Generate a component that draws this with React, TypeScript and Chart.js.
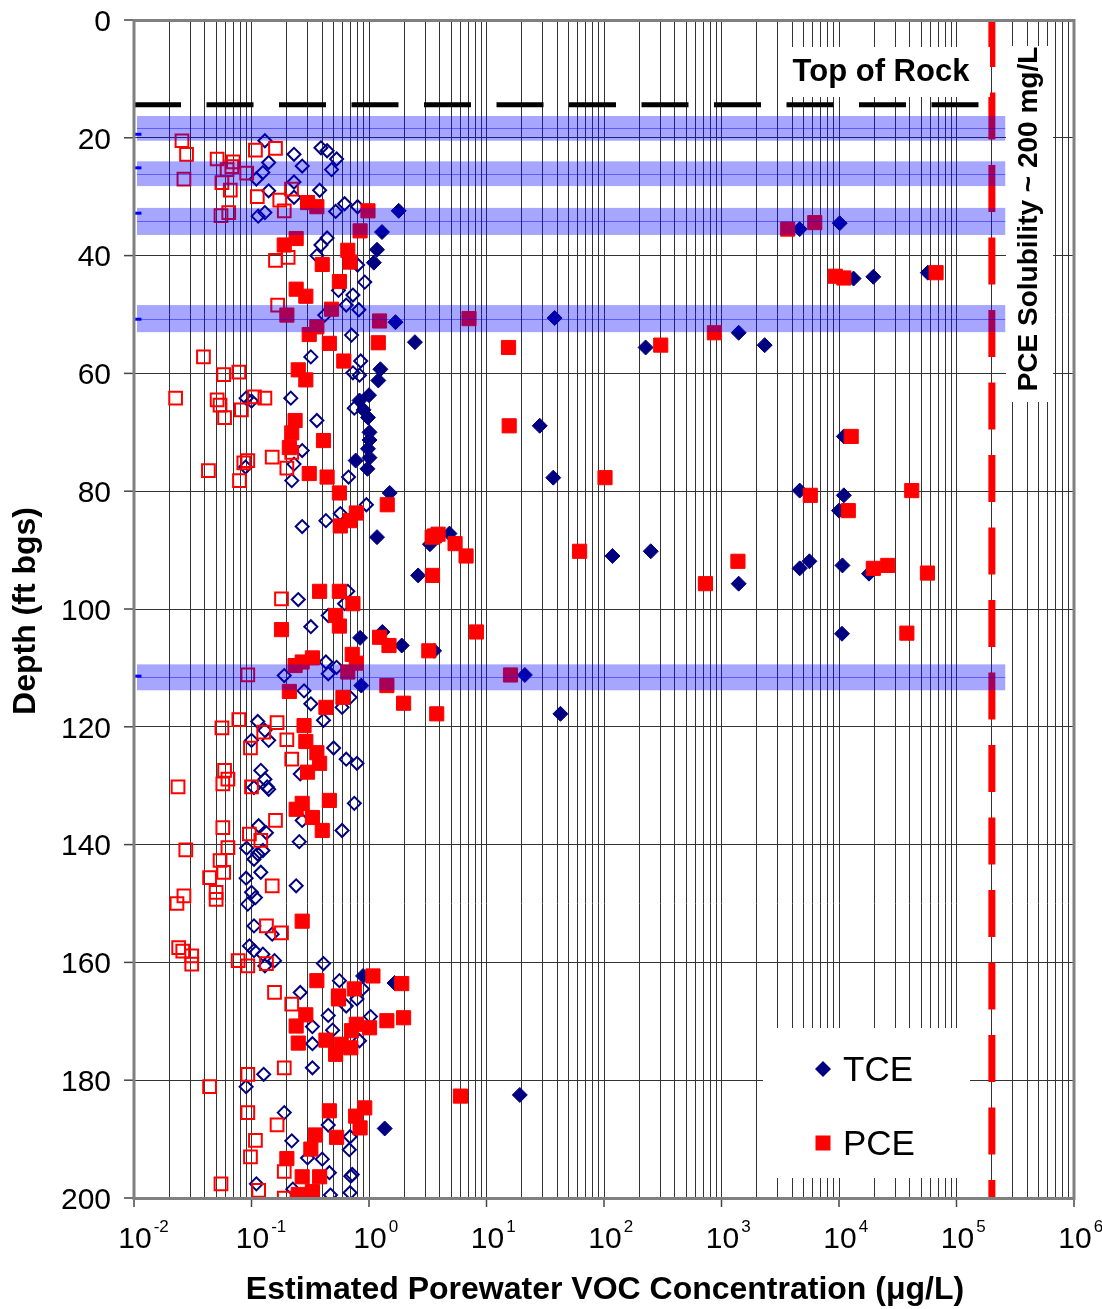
import React, { useEffect, useRef } from 'react';
import { Chart, registerables } from 'chart.js';

Chart.register(...registerables);

// ---------- data (x = concentration ug/L, y = depth ft bgs) ----------
const tceFilled: [number, number][] = [
  [1.79, 32.4], [1.29, 36.0], [1.17, 39.0], [1.1, 41.2], [1.68, 51.3], [2.46, 54.7],
  [4630, 35.5], [10140, 34.5], [13300, 43.9], [19600, 43.6], [57000, 42.9], [38, 50.6], [1400, 53.1], [2330, 55.2], [226, 55.6],
  [1.25, 59.3], [1.2, 61.2], [1.0, 63.7], [0.83, 64.6], [0.9, 66.2], [0.98, 67.5], [1.01, 70.0], [1.01, 71.3], [0.98, 72.8], [1.01, 74.3], [0.77, 74.8], [0.97, 76.2], [1.5, 80.3], [1.17, 87.8],
  [28.4, 68.9], [37, 77.7], [11000, 70.7], [4630, 79.9], [11000, 80.7], [10000, 83.3],
  [4.84, 87.2], [3.3, 89.0], [2.62, 94.3], [118, 91.0], [250, 90.2], [1400, 95.7], [4630, 93.1], [5600, 91.9], [10700, 92.6], [18000, 94.0],
  [1.9, 106.2], [3.58, 107.1], [10600, 104.2], [21.2, 111.2], [42.6, 117.8], [0.84, 104.9], [1.3, 103.9], [0.86, 113.0],
  [0.89, 162.3], [1.65, 163.5], [1.36, 188.2], [19.2, 182.5],
];

const pceFilled: [number, number][] = [
  [0.30, 31.0], [0.36, 31.7], [0.98, 32.4], [0.84, 35.8], [0.24, 37.1], [0.19, 38.2], [0.66, 39.1], [0.69, 41.1], [0.40, 41.5], [0.56, 44.4], [0.24, 45.7], [0.29, 46.9], [0.48, 49.1], [0.20, 50.1], [0.36, 52.1], [0.31, 53.4], [1.23, 51.1], [1.2, 54.8], [0.46, 54.9], [7.1, 50.7],
  [3660, 35.5], [6220, 34.4], [9300, 43.5], [11000, 43.8], [67000, 42.9], [870, 53.1], [304, 55.2], [15.4, 55.6],
  [0.25, 59.4], [0.29, 61.1], [0.61, 57.9], [0.235, 68.0], [0.22, 70.1], [0.21, 72.6], [0.41, 71.4], [0.31, 77.0], [0.44, 77.6], [0.56, 80.3], [1.43, 82.3], [0.78, 83.7], [0.69, 85.0], [0.57, 85.9],
  [15.6, 68.9], [102, 77.7], [12700, 70.7], [5700, 80.7], [12000, 83.3], [41600, 79.9],
  [3.45, 87.8], [3.6, 87.6], [3.87, 87.3], [5.4, 88.9], [6.7, 91.0], [3.47, 94.3], [62, 90.2], [1380, 91.9], [730, 95.7], [19600, 93.1], [26000, 92.6], [56600, 93.9],
  [0.38, 97.0], [0.56, 97.0], [0.73, 99.1], [0.52, 101.1], [0.56, 102.9], [0.18, 103.5], [1.23, 104.8], [1.48, 106.2], [3.23, 107.1], [8.2, 103.9], [37800, 104.1],
  [0.33, 108.3], [0.235, 109.6], [0.27, 109.0], [0.72, 107.7], [0.78, 109.2], [0.66, 110.7], [1.42, 113.0], [16, 111.2], [0.21, 114.0], [0.43, 116.7], [0.60, 115.0], [1.97, 116.0], [3.77, 117.8],
  [0.28, 119.8], [0.29, 122.5], [0.36, 124.4], [0.38, 126.2], [0.30, 127.7],
  [0.24, 134.0], [0.27, 133.0], [0.46, 132.5], [0.33, 135.4], [0.40, 137.6], [0.27, 153.0],
  [1.08, 162.3], [1.9, 163.6], [0.36, 163.1], [0.55, 165.7], [0.75, 164.5],
  [0.55, 166.2], [0.29, 168.9], [0.24, 170.8], [0.25, 173.7], [0.43, 173.2], [0.58, 173.9], [0.52, 175.6], [0.70, 174.5], [0.71, 171.6], [0.78, 170.5], [1.01, 171.1], [1.42, 169.9], [1.97, 169.4],
  [6.0, 182.7], [0.46, 185.2], [0.77, 186.1], [0.92, 184.7], [0.84, 188.1], [0.35, 189.3], [0.53, 189.7], [0.32, 191.7], [0.20, 193.3], [0.27, 196.4], [0.38, 196.4], [0.25, 199.4], [0.33, 198.9],
];

const pceOpen: [number, number][] = [
  [0.0256, 20.5], [0.028, 22.8], [0.0266, 27.0], [0.051, 23.6], [0.070, 24.1], [0.068, 24.9], [0.062, 25.4], [0.091, 26.0], [0.056, 27.6], [0.066, 28.9], [0.108, 22.1], [0.16, 21.8], [0.112, 30.0], [0.174, 30.6], [0.219, 28.7], [0.19, 32.4], [0.055, 33.2], [0.064, 32.7], [0.16, 40.8], [0.205, 40.3], [0.167, 48.4],
  [0.039, 57.2], [0.058, 60.2], [0.078, 59.8], [0.0226, 64.2], [0.051, 64.5], [0.054, 65.4], [0.059, 67.5], [0.106, 64.0], [0.13, 64.2], [0.082, 66.2], [0.043, 76.5], [0.086, 75.2], [0.093, 74.8], [0.079, 78.2], [0.15, 74.2], [0.20, 76.1], [0.22, 73.4],
  [0.18, 98.3], [0.093, 111.2], [0.056, 120.2], [0.078, 118.8], [0.165, 119.3], [0.127, 120.9], [0.20, 122.2], [0.098, 123.6], [0.22, 125.5], [0.059, 127.4], [0.063, 128.9], [0.057, 129.7], [0.0237, 130.2], [0.10, 130.2],
  [0.057, 137.1], [0.16, 135.9], [0.096, 138.2], [0.12, 139.3], [0.0276, 140.9], [0.063, 140.5], [0.054, 142.7], [0.058, 144.7], [0.044, 145.6], [0.15, 147.0], [0.050, 148.1], [0.050, 149.3], [0.0266, 148.7], [0.0232, 150.0], [0.134, 153.8], [0.18, 155.0], [0.024, 157.5], [0.026, 158.1], [0.031, 158.9], [0.031, 160.3], [0.077, 159.7], [0.093, 160.6], [0.134, 160.2], [0.157, 165.1],
  [0.22, 167.1], [0.19, 177.9], [0.093, 179.0], [0.044, 181.1], [0.093, 185.5], [0.165, 187.6], [0.108, 190.2], [0.098, 193.0], [0.19, 195.5], [0.055, 197.6], [0.115, 198.7], [0.19, 200],
];

const tceOpen: [number, number][] = [
  [0.13, 20.5], [0.23, 22.8], [0.27, 24.8], [0.14, 24.2], [0.125, 25.9], [0.11, 27.0], [0.39, 21.7], [0.44, 22.2], [0.53, 23.6], [0.48, 25.4], [0.23, 27.5], [0.14, 29.0], [0.23, 30.1], [0.38, 28.9], [0.114, 33.3], [0.13, 32.7], [0.52, 32.5], [0.62, 31.2], [0.80, 31.7], [0.44, 37.0], [0.39, 38.2], [0.36, 40.0], [0.80, 41.6], [0.92, 44.5], [0.55, 45.9], [0.73, 46.7], [0.64, 48.4], [0.82, 49.2], [0.42, 50.1], [0.71, 53.5],
  [0.32, 57.2], [0.85, 57.9], [0.73, 59.9], [0.83, 60.3], [0.216, 64.2], [0.09, 64.2], [0.1, 64.7], [0.36, 68.0], [0.75, 65.9], [0.27, 73.1], [0.23, 75.4], [0.22, 78.2], [0.089, 75.9], [0.67, 77.6], [0.95, 82.3], [0.27, 86.0], [0.43, 85.0], [0.57, 83.8],
  [0.25, 98.4], [0.66, 97.0], [0.32, 103.0], [0.45, 101.1], [0.62, 99.1], [0.43, 109.0], [0.53, 109.9], [0.45, 111.0], [0.19, 111.3], [0.28, 113.9], [0.32, 116.1], [0.69, 115.0], [0.59, 116.7], [0.41, 118.9], [0.113, 119.1], [0.13, 120.6], [0.14, 122.3], [0.10, 122.3], [0.50, 123.6], [0.64, 125.5], [0.79, 126.2], [0.12, 127.4], [0.13, 128.9], [0.136, 130.2], [0.26, 128.0],
  [0.105, 130.3], [0.14, 130.6], [0.115, 136.8], [0.134, 138.0], [0.125, 141.0], [0.091, 140.6], [0.105, 142.5], [0.113, 141.6], [0.12, 144.7], [0.09, 145.7], [0.255, 139.5], [0.27, 135.9], [0.59, 137.6], [0.75, 133.0], [0.24, 147.0], [0.1, 148.1], [0.108, 149.0], [0.093, 150.1], [0.105, 153.8], [0.15, 155.2], [0.096, 157.2], [0.105, 158.0], [0.125, 158.6], [0.157, 159.7], [0.13, 160.6], [0.41, 160.2], [0.56, 163.1], [0.26, 165.1], [0.88, 164.5],
  [0.79, 166.2], [0.64, 167.4], [0.45, 169.0], [1.03, 169.2], [0.33, 170.9], [0.49, 171.5], [0.33, 173.8], [0.83, 173.3], [0.33, 177.9], [0.127, 179.0], [0.09, 181.1], [0.19, 185.5], [0.45, 187.6], [0.69, 189.6], [0.22, 190.3], [0.68, 191.8], [0.30, 193.2], [0.40, 193.4], [0.46, 195.7], [0.70, 196.3], [0.72, 196.0], [0.11, 197.6], [0.69, 199.1], [0.47, 199.5], [0.225, 198.5],
];

// fracture-zone bands (depth, ft bgs) and their interval markers
const bandTop = [16.3, 24.0, 31.9, 48.4, 109.4];
const bandBottom = [20.5, 28.2, 36.5, 53.0, 113.8];
const bandXEnd = 2.6e5;
const markerDepths = [19.4, 25.1, 32.8, 50.8, 111.4];
const markerX = 0.0107;

const topOfRockDepth = 14.4;
const topOfRockX = [0.01, 1.6e5];
const pceSolubility = 2e5; // ug/L
const depthRange = [0, 200];

const xDecades = [-2, -1, 0, 1, 2, 3, 4, 5, 6];
const yTicks = [0, 20, 40, 60, 80, 100, 120, 140, 160, 180, 200];

const FONT = "'Liberation Sans', Arial, sans-serif";
const NAVY = '#000080';
const RED = '#FF0000';

const toPts = (a: [number, number][]) => a.map(([x, y]) => ({ x, y }));

const decor = {
  id: 'decor',
  afterDatasetsDraw(chart: any) {
    const ctx = chart.ctx as CanvasRenderingContext2D;
    const xs = chart.scales.x;
    const ys = chart.scales.y;
    const { left } = chart.chartArea;
    ctx.save();
    // bands
    const xEnd = xs.getPixelForValue(bandXEnd);
    bandTop.forEach((t, i) => {
      const y1 = ys.getPixelForValue(t);
      const y2 = ys.getPixelForValue(bandBottom[i]);
      ctx.fillStyle = 'rgba(0,0,255,0.35)';
      ctx.fillRect(left + 3, y1, xEnd - left - 3, y2 - y1);
      ctx.strokeStyle = 'rgba(0,0,255,0.45)';
      ctx.lineWidth = 1;
      const yc = Math.round((y1 + y2) / 2) + 0.5;
      ctx.beginPath();
      ctx.moveTo(left + 3, yc);
      ctx.lineTo(xEnd, yc);
      ctx.stroke();
    });
    // Top of Rock label
    ctx.fillStyle = '#fff';
    ctx.fillRect(780, 47, 210, 50);
    ctx.fillStyle = '#000';
    ctx.font = `bold 31px ${FONT}`;
    ctx.textAlign = 'center';
    ctx.textBaseline = 'alphabetic';
    ctx.fillText('Top of Rock', 881, 81);
    // solubility label
    ctx.fillStyle = '#fff';
    ctx.fillRect(1006, 46, 47, 356);
    ctx.save();
    ctx.translate(1037, 219);
    ctx.rotate(-Math.PI / 2);
    ctx.fillStyle = '#000';
    ctx.font = `bold 28px ${FONT}`;
    ctx.textAlign = 'center';
    ctx.fillText('PCE Solubility ~ 200 mg/L', 0, 0);
    ctx.restore();
    // legend
    ctx.fillStyle = '#fff';
    ctx.fillRect(763, 1028, 207, 150);
    ctx.fillStyle = NAVY;
    ctx.beginPath();
    ctx.moveTo(823 - 8, 1069);
    ctx.lineTo(823, 1069 - 8);
    ctx.lineTo(823 + 8, 1069);
    ctx.lineTo(823, 1069 + 8);
    ctx.closePath();
    ctx.fill();
    ctx.fillStyle = RED;
    ctx.fillRect(815.5, 1135.5, 15, 15);
    ctx.fillStyle = '#000';
    ctx.font = `35px ${FONT}`;
    ctx.textAlign = 'left';
    ctx.fillText('TCE', 843, 1081);
    ctx.fillText('PCE', 843, 1155);
    ctx.restore();
  },
  afterDraw(chart: any) {
    const ctx = chart.ctx as CanvasRenderingContext2D;
    const xs = chart.scales.x;
    const ys = chart.scales.y;
    const { left, right, top, bottom } = chart.chartArea;
    ctx.save();
    // tick marks
    ctx.strokeStyle = '#444';
    ctx.lineWidth = 1.5;
    yTicks.forEach((v) => {
      const y = ys.getPixelForValue(v);
      ctx.beginPath();
      ctx.moveTo(left - 10, y);
      ctx.lineTo(left, y);
      ctx.stroke();
    });
    xDecades.forEach((e) => {
      const x = xs.getPixelForValue(Math.pow(10, e));
      ctx.beginPath();
      ctx.moveTo(x, bottom);
      ctx.lineTo(x, bottom + 9);
      ctx.stroke();
    });
    // frame
    ctx.strokeStyle = '#808080';
    ctx.lineWidth = 3;
    ctx.strokeRect(left, top + 0.5, right - left, bottom - top);
    // y labels
    ctx.fillStyle = '#000';
    ctx.font = `30px ${FONT}`;
    ctx.textAlign = 'right';
    ctx.textBaseline = 'alphabetic';
    yTicks.forEach((v) => {
      const y = ys.getPixelForValue(v);
      ctx.fillText(String(v), 111, y + 10.8);
    });
    // x labels
    xDecades.forEach((e) => {
      const x = xs.getPixelForValue(Math.pow(10, e)) + 1;
      ctx.font = `30px ${FONT}`;
      ctx.textAlign = 'center';
      ctx.fillText('10', x, 1248);
      const w = ctx.measureText('10').width;
      ctx.font = `17px ${FONT}`;
      ctx.textAlign = 'left';
      ctx.fillText(String(e), x + w / 2 + 2, 1232);
    });
    // axis titles
    ctx.font = `bold 32px ${FONT}`;
    ctx.textAlign = 'center';
    ctx.fillText('Estimated Porewater VOC Concentration (\u03bcg/L)', 605, 1299);
    ctx.save();
    ctx.translate(35, 611);
    ctx.rotate(-Math.PI / 2);
    ctx.fillText('Depth (ft bgs)', 0, 0);
    ctx.restore();
    ctx.restore();
  },
};

export default function App() {
  const ref = useRef<HTMLCanvasElement>(null);
  useEffect(() => {
    const xTickVals: number[] = [];
    for (let e = -2; e < 6; e++) for (let m = 1; m <= 9; m++) xTickVals.push(m * Math.pow(10, e));
    xTickVals.push(1e6);
    const chart = new Chart(ref.current as HTMLCanvasElement, {
      type: 'scatter',
      data: {
        datasets: [
          { label: 'PCE', data: toPts(pceFilled), pointStyle: 'rect', pointRadius: 10, backgroundColor: RED, borderColor: RED, borderWidth: 1 },
          { label: 'TCE', data: toPts(tceFilled), pointStyle: 'rectRot', pointRadius: 7.5, backgroundColor: NAVY, borderColor: NAVY, borderWidth: 1 },
          { label: 'PCE est.', data: toPts(pceOpen), pointStyle: 'rect', pointRadius: 9, backgroundColor: 'rgba(0,0,0,0)', borderColor: RED, borderWidth: 2 },
          { label: 'TCE est.', data: toPts(tceOpen), pointStyle: 'rectRot', pointRadius: 6.5, backgroundColor: 'rgba(0,0,0,0)', borderColor: NAVY, borderWidth: 2 },
          { label: 'intervals', data: markerDepths.map((d) => ({ x: markerX, y: d })), pointStyle: 'line', pointRadius: 4, borderColor: '#0000FF', borderWidth: 3 },
          { label: 'Top of Rock', data: topOfRockX.map((x) => ({ x, y: topOfRockDepth })), showLine: true, pointRadius: 0, borderColor: '#000', borderWidth: 5, borderDash: [47, 25.5] },
          { label: 'Solubility', data: depthRange.map((y) => ({ x: pceSolubility, y })), showLine: true, pointRadius: 0, borderColor: RED, borderWidth: 7, borderDash: [47, 25.5] },
        ] as any,
      },
      options: {
        responsive: false,
        animation: false,
        events: [],
        layout: { padding: { top: 20, right: 28, bottom: 0, left: 0 } },
        plugins: { legend: { display: false }, tooltip: { enabled: false } },
        scales: {
          x: {
            type: 'logarithmic',
            min: 0.01,
            max: 1e6,
            ticks: { display: false },
            border: { display: false },
            grid: { color: '#333333', lineWidth: 1, drawTicks: false },
            afterBuildTicks: (s: any) => { s.ticks = xTickVals.map((value) => ({ value })); },
            afterFit: (s: any) => { s.height = 111; },
          },
          y: {
            type: 'linear',
            reverse: true,
            min: 0,
            max: 200,
            ticks: { display: false, stepSize: 20 },
            border: { display: false },
            grid: { color: '#333333', lineWidth: 1, drawTicks: false },
            afterFit: (s: any) => { s.width = 134; },
          },
        },
      } as any,
      plugins: [decor],
    });
    return () => chart.destroy();
  }, []);
  return (
    <div style={{ position: 'absolute', left: 0, top: 0, width: 1102, height: 1309, background: '#fff' }}>
      <canvas ref={ref} width={1102} height={1309} style={{ display: 'block' }} />
    </div>
  );
}
